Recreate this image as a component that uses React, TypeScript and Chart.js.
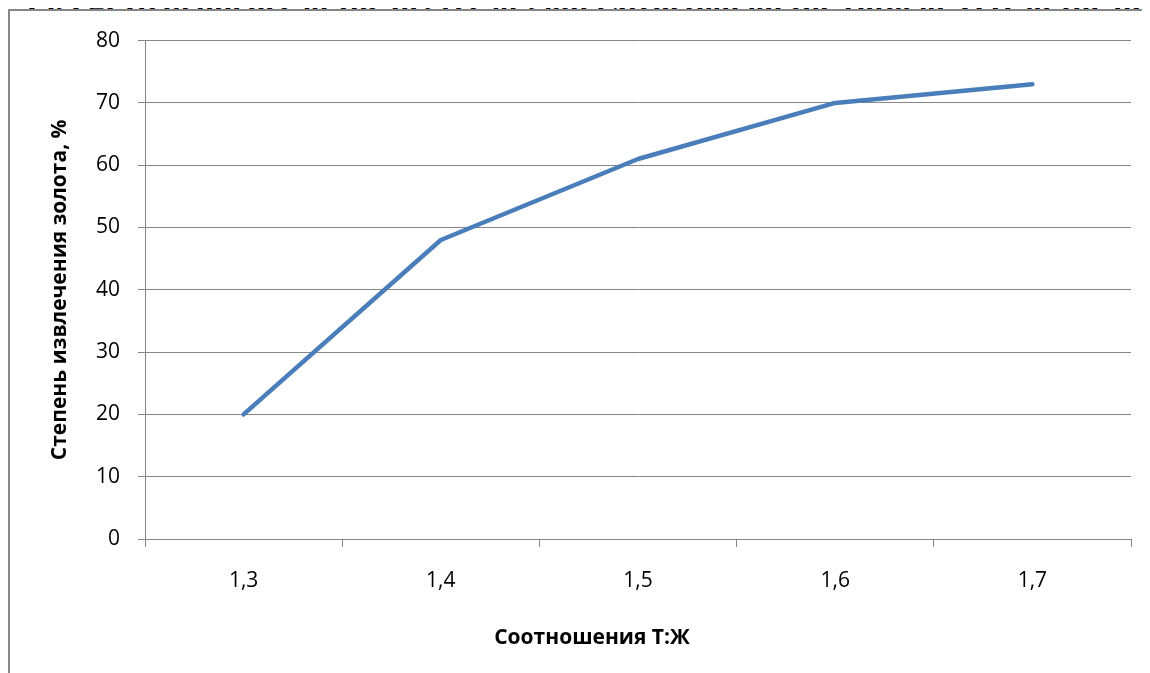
import React, { useEffect, useRef } from "react";
import { Chart, registerables } from "chart.js";

Chart.register(...registerables);

const categories: string[] = ["1,3", "1,4", "1,5", "1,6", "1,7"];
const extraction: number[] = [20, 48, 61, 70, 73];
const yTicks: number[] = [0, 10, 20, 30, 40, 50, 60, 70, 80];

const figTitle = "Fig. 2: Dependence of the degree of gold extraction on the ratio of T:W of the pulp";
const yTitle = "Степень извлечения золота, %";
const xTitle = "Соотношения Т:Ж";

const FONT = "'Open Sans', 'Noto Sans', sans-serif";
const GRID = "#868686";

export default function App() {
  const ref = useRef<HTMLCanvasElement | null>(null);

  useEffect(() => {
    document.body.style.overflow = "hidden";
    if (!ref.current) return;
    const chart = new Chart(ref.current, {
      type: "line",
      data: {
        labels: categories,
        datasets: [
          {
            data: extraction,
            borderColor: "#4A7EBB",
            borderWidth: 4.5,
            pointRadius: 0,
            borderCapStyle: "round",
            borderJoinStyle: "round",
            tension: 0,
            fill: false,
          },
        ],
      },
      options: {
        animation: false,
        responsive: true,
        maintainAspectRatio: false,
        layout: { padding: { left: 0, right: 19, top: 29, bottom: 0 } },
        plugins: { legend: { display: false }, tooltip: { enabled: false } },
        scales: {
          x: {
            type: "category",
            offset: true,
            grid: {
              offset: true,
              drawOnChartArea: false,
              drawTicks: true,
              tickLength: 8,
              color: GRID,
              lineWidth: 1,
            },
            border: { display: true, color: GRID, width: 1 },
            ticks: {
              color: "#000",
              font: { family: FONT, size: 21 },
              padding: 21,
              maxRotation: 0,
            },
            afterFit: (s: any) => {
              s.height = 134;
            },
          },
          y: {
            min: 0,
            max: 80,
            afterBuildTicks: (s: any) => {
              s.ticks = yTicks.map((v) => ({ value: v }));
            },
            grid: {
              color: GRID,
              lineWidth: 1,
              drawTicks: true,
              tickLength: 7,
            },
            border: { display: true, color: GRID, width: 1 },
            ticks: {
              color: "#000",
              font: { family: FONT, size: 21 },
              padding: 18,
            },
            title: {
              display: true,
              text: yTitle,
              color: "#000",
              font: { family: FONT, size: 21, weight: "bold" },
              lineHeight: 1.2,
              padding: { top: 38, bottom: 0 },
            },
            afterFit: (s: any) => {
              s.width = 136;
            },
          },
        },
      },
    });
    return () => chart.destroy();
  }, []);

  return (
    <div style={{ position: "relative", width: 1142, height: 665 }}>
      <div
        style={{
          position: "absolute",
          left: 18,
          top: -23,
          whiteSpace: "nowrap",
          fontFamily: "'Liberation Serif', 'Times New Roman', serif",
          fontWeight: "bold",
          fontSize: 33,
          lineHeight: "33px",
          color: "#000",
        }}
      >
        {figTitle}
      </div>
      <div
        style={{
          position: "absolute",
          left: 0,
          top: 1,
          width: 1142,
          height: 664,
          borderLeft: `2px solid ${GRID}`,
          borderTop: `2px solid ${GRID}`,
          boxSizing: "border-box",
          background: "#fff",
        }}
      />
      <div style={{ position: "absolute", left: 1, top: 2, width: 1141, height: 663 }}>
        <canvas ref={ref} />
      </div>
      <div
        style={{
          position: "absolute",
          left: 592 - 8 - 150,
          width: 300,
          top: 636 - 8 - 15,
          textAlign: "center",
          fontFamily: FONT,
          fontWeight: "bold",
          fontSize: 21,
          lineHeight: "30px",
          color: "#000",
        }}
      >
        {xTitle}
      </div>
    </div>
  );
}
